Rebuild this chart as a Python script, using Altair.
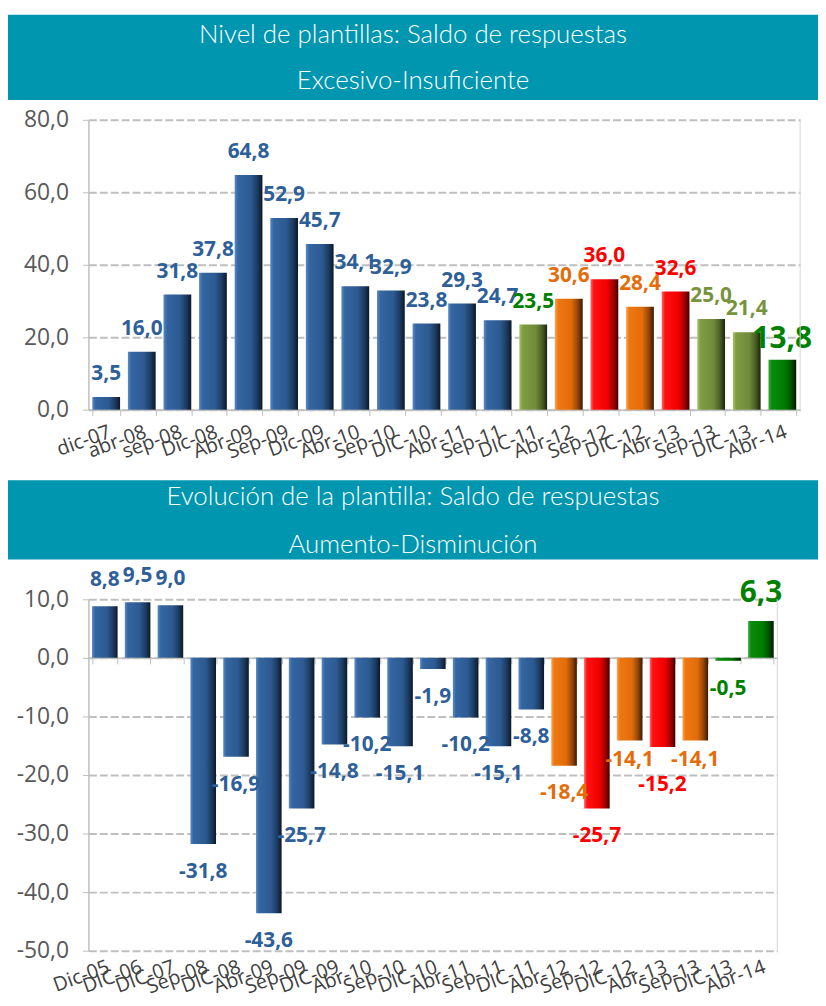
import altair as alt
import pandas as pd

# ---------------- data ----------------
cats_nivel = ["dic-07", "abr-08", "sep-08", "Dic-08", "Abr-09", "Sep-09", "Dic-09", "Abr-10",
              "Sep-10", "DIC-10", "Abr-11", "Sep-11", "DIC-11", "Abr-12", "Sep-12", "DIC-12",
              "Abr-13", "Sep-13", "DIC-13", "Abr-14"]
vals_nivel = [3.5, 16.0, 31.8, 37.8, 64.8, 52.9, 45.7, 34.1, 32.9, 23.8, 29.3, 24.7,
              23.5, 30.6, 36.0, 28.4, 32.6, 25.0, 21.4, 13.8]
barras_nivel = ["azul"] * 12 + ["oliva", "naranja", "rojo", "naranja", "rojo", "oliva", "oliva", "verde"]
etiq_nivel = ["azul"] * 12 + ["verde", "naranja", "rojo", "naranja", "rojo", "oliva", "oliva", "verde"]

cats_evol = ["Dic-05", "DIC-06", "DIC-07", "Sep-08", "DIC-08", "Abr-09", "Sep-09", "DIC-09",
             "Abr-10", "Sep-10", "DIC-10", "Abr-11", "Sep-11", "DIC-11", "Abr-12", "Sep-12",
             "DIC-12", "Abr-13", "Sep-13", "DIC-13", "Abr-14"]
vals_evol = [8.8, 9.5, 9.0, -31.8, -16.9, -43.6, -25.7, -14.8, -10.2, -15.1, -1.9, -10.2,
             -15.1, -8.8, -18.4, -25.7, -14.1, -15.2, -14.1, -0.5, 6.3]
barras_evol = ["azul"] * 14 + ["naranja", "rojo", "naranja", "rojo", "naranja", "verde", "verde"]
etiq_evol = ["azul"] * 14 + ["naranja", "rojo", "naranja", "rojo", "naranja", "verde", "verde"]

titulo_nivel = ["Nivel de plantillas: Saldo de respuestas", "Excesivo-Insuficiente"]
titulo_evol = ["Evolución de la plantilla: Saldo de respuestas", "Aumento-Disminución"]

ticks_nivel = [0, 20, 40, 60, 80]
ticks_evol = [10, 0, -10, -20, -30, -40, -50]

# ---------------- style ----------------
FONT = "Open Sans"
TITLE_FONT = "Lato"
TEAL = "#0096B0"
GRID = "#BFBFBF"
AXIS = "#BFBFBF"
grupos = ["azul", "oliva", "naranja", "rojo", "verde"]
color_etiq = ["#2F5F98", "#77933C", "#E46C0A", "#FF0000", "#008000"]
grad_stops = {
    "azul": ["#5B8BC7", "#3566A2", "#2C5A91", "#1C3B61", "#0B1828"],
    "oliva": ["#A6C464", "#7F9C42", "#718C3A", "#4A5D25", "#1C240D"],
    "naranja": ["#FFA050", "#EE780F", "#E26C09", "#94460A", "#3A1A02"],
    "rojo": ["#FF6A6A", "#FF1010", "#F20000", "#A50000", "#3E0000"],
    "verde": ["#3DAA3D", "#0A8A0A", "#007C00", "#004F00", "#001A00"],
}
offsets = [0, 0.12, 0.58, 0.82, 1]
# extra vertical shift (px) of some value labels below negative bars, as placed in the original
nudge_evol = {"DIC-12": -8, "Sep-13": -8, "Abr-13": 10}

LABEL_EXPR = "(datum.value < 0 ? '-' : '') + replace(format(abs(datum.value), '.1f'), '.', ',')"
TXT_EXPR = "(datum.val < 0 ? '-' : '') + replace(format(abs(datum.val), '.1f'), '.', ',')"


def gradient(g):
    return {"gradient": "linear", "x1": 0, "x2": 1, "y1": 0, "y2": 0,
            "stops": [{"offset": o, "color": c} for o, c in zip(offsets, grad_stops[g])]}


one = pd.DataFrame({"k": [0]})


def banda(lineas, top, bottom, y1, y2):
    rect = alt.Chart(one).mark_rect(color=TEAL).encode(
        x=alt.value(-81), x2=alt.value(735), y=alt.value(top), y2=alt.value(bottom))
    out = [rect]
    for texto, yy in zip(lineas, [y1, y2]):
        out.append(alt.Chart(one).mark_text(
            text=texto, font=TITLE_FONT, fontWeight=300, fontSize=26, color="white",
            align="center", baseline="middle").encode(x=alt.value(327), y=alt.value(yy)))
    return out


def panel(cats, vals, barras, etiq, W, H, dom, ticks, lineas, band, pos_dy, big_dy, big_size,
          evol, nudge):
    df = pd.DataFrame({"cat": cats, "val": vals, "barra": barras, "etiq": etiq})
    base = alt.Chart(df)
    xs = alt.Scale(domain=cats, paddingInner=0.22, paddingOuter=0.11)
    ys = alt.Scale(domain=dom, nice=False)
    yaxis = alt.Axis(values=ticks, labelExpr=LABEL_EXPR, labelFont=FONT, labelFontSize=23,
                     labelColor="#595959", labelPadding=14, tickSize=6, tickColor=AXIS,
                     domainColor=AXIS, domainWidth=1.5, grid=True, gridColor=GRID,
                     gridDash=[8, 3], gridWidth=2, title=None)
    lab_axis = alt.Axis(title=None, labelAngle=340, labelFont=FONT, labelFontSize=20,
                        labelColor="#404040", labelPadding=6, labelBaseline="top",
                        labelAlign="right", labelOverlap=False, grid=False,
                        ticks=not evol, tickBand="extent", tickSize=6, tickColor=AXIS,
                        domain=not evol, domainColor=AXIS, domainWidth=1.5, orient="bottom")
    zero_axis = alt.Axis(title=None, labels=False, grid=False, ticks=True, tickBand="extent",
                         tickSize=6, tickColor=AXIS, domain=True, domainColor=AXIS,
                         domainWidth=1.5, orient="bottom", offset=-(H * 5 / 6), zindex=0)

    def xaxis_for(k):
        # top panel: the same axis in every layer (merged); bottom panel: independent axes
        if not evol:
            return lab_axis
        if k == 0:
            return lab_axis
        if k == 1:
            return zero_axis
        return None

    layers = banda(lineas, *band)
    present = [g for g in grupos if g in barras]
    k = 0
    for g in present:
        layers.append(base.transform_filter(alt.datum.barra == g).mark_bar(fill=gradient(g)).encode(
            x=alt.X("cat:N", scale=xs, axis=xaxis_for(k)),
            y=alt.Y("val:Q", scale=ys, axis=yaxis)))
        k += 1

    big = cats[-1]
    cscale = alt.Scale(domain=grupos, range=color_etiq)

    def txt(flt, baseline, dy, size):
        return base.transform_filter(flt).transform_calculate(txt=TXT_EXPR).mark_text(
            font=FONT, fontWeight="bold", fontSize=size, baseline=baseline, dy=dy, align="center"
        ).encode(x=alt.X("cat:N", scale=xs, axis=xaxis_for(99)),
                 y=alt.Y("val:Q", scale=ys, axis=yaxis),
                 text="txt:N",
                 color=alt.Color("etiq:N", scale=cscale, legend=None))

    excl = " && ".join([f"datum.cat != '{c}'" for c in [big] + list(nudge)])
    layers.append(txt(f"datum.cat != '{big}' && datum.val >= 0", "alphabetic", pos_dy, 21))
    layers.append(txt(f"{excl} && datum.val < 0", "top", 17, 21))
    for c, d in nudge.items():
        layers.append(txt(f"datum.cat == '{c}'", "top", 17 + d, 21))
    layers.append(txt(f"datum.cat == '{big}'", "alphabetic", big_dy, big_size))

    layers.append(alt.Chart(one).mark_rule(color="#D6D6D6", strokeWidth=1).encode(
        x=alt.value(W), y=alt.value(0), y2=alt.value(H)))

    ch = alt.layer(*layers).properties(width=W, height=H)
    if evol:
        ch = ch.resolve_axis(x="independent")
    return ch


p1 = panel(cats_nivel, vals_nivel, barras_nivel, etiq_nivel, 717, 292, [0, 80], ticks_nivel,
           titulo_nivel, (-106, -20, -85, -39), -17, -12, 30, False, {})
p2 = panel(cats_evol, vals_evol, barras_evol, etiq_evol, 694, 354, [-50, 10], ticks_evol,
           titulo_evol, (-120, -40, -103, -55), -20, -19, 30, True, nudge_evol)

chart = alt.vconcat(p1, p2, spacing=18).properties(
    padding={"top": 3, "bottom": 0, "left": 0, "right": 0}, background="white"
).configure_view(stroke=None)

chart.save("out.html", embed_options={"renderer": "svg", "actions": False})
